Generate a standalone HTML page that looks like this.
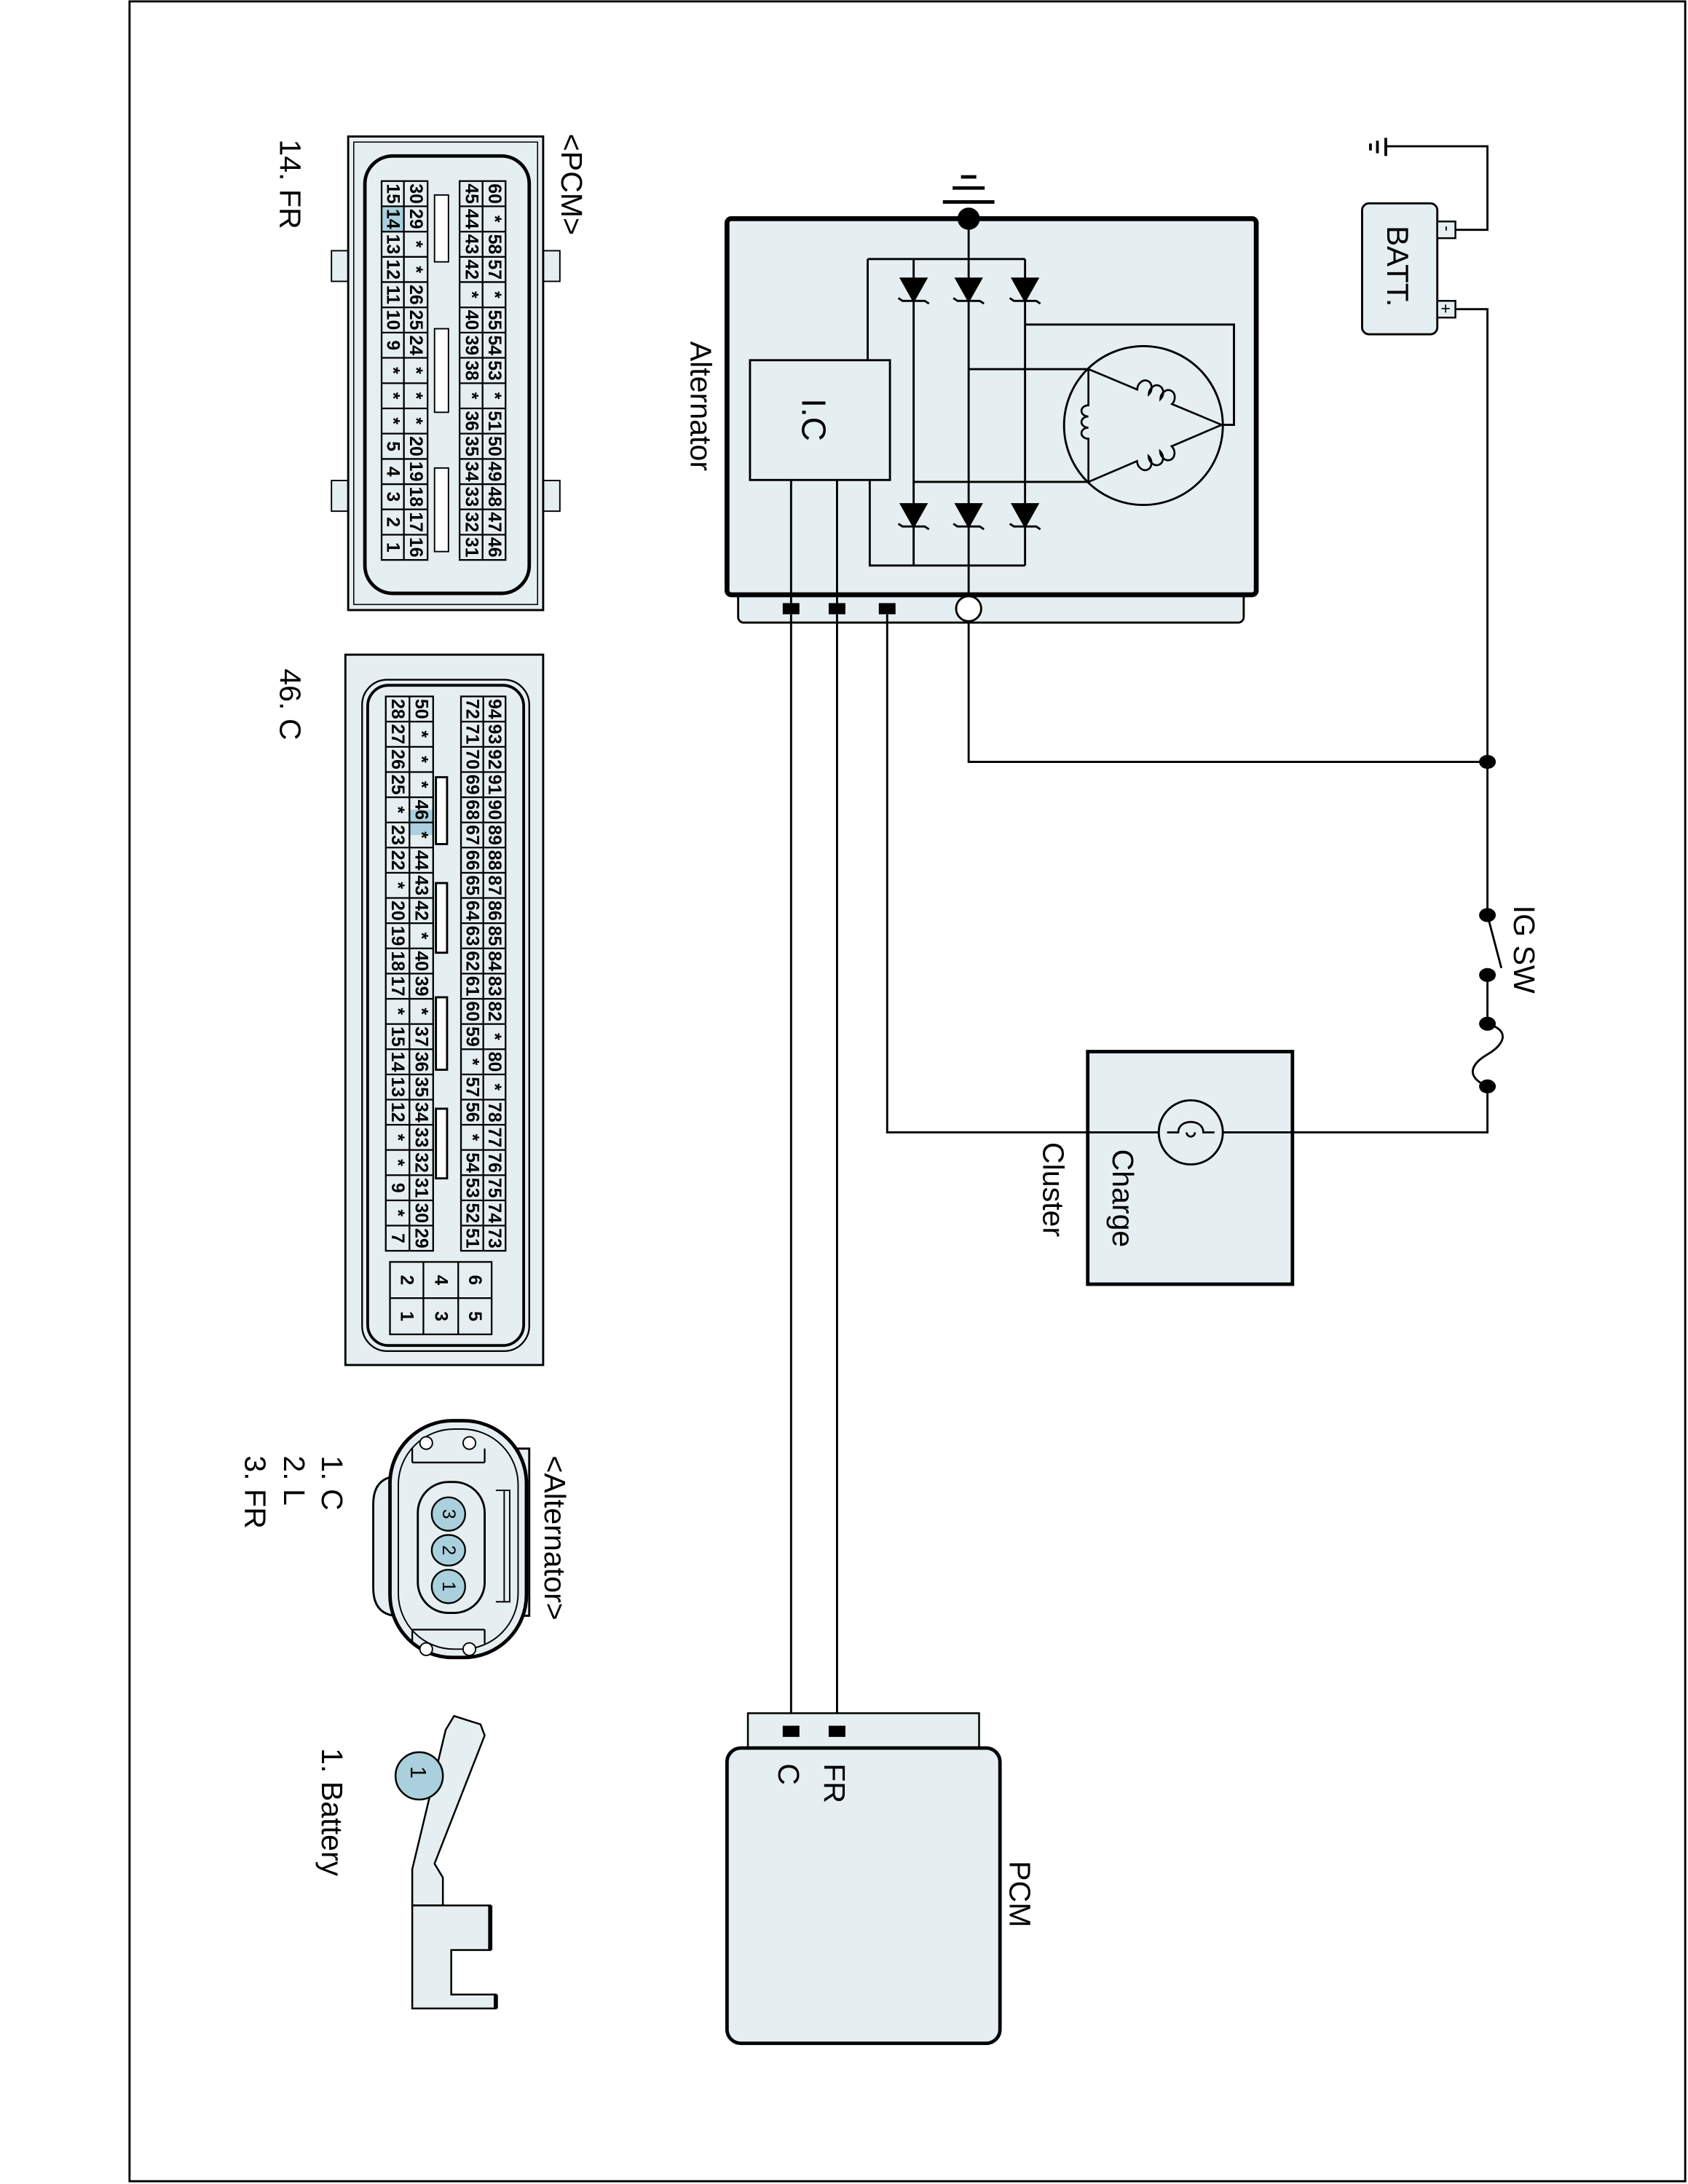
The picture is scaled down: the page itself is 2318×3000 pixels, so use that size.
<!DOCTYPE html>
<html><head><meta charset="utf-8"><style>
html,body{margin:0;padding:0;background:#fff}
svg{display:block}
text{font-family:"Liberation Sans",sans-serif;fill:#000}
.g text{font-size:13px;font-weight:bold;text-anchor:middle;dominant-baseline:central}
.lb{font-size:21.5px}
</style></head><body>
<svg width="2318" height="3000" viewBox="0 0 1212 1568" preserveAspectRatio="none" xmlns="http://www.w3.org/2000/svg">
<rect x="93" y="1" width="1117" height="1565" fill="none" stroke="#000" stroke-width="1.5"/>

<!-- ===== PCM connector 14. FR ===== -->
<text class="lb" transform="translate(201,100) rotate(90)">14. FR</text>
<text class="lb" transform="translate(403,96) rotate(90)">&lt;PCM&gt;</text>
<rect x="238" y="180" width="12" height="22" fill="#e5eef0" stroke="#000"/>
<rect x="238" y="345" width="12" height="22" fill="#e5eef0" stroke="#000"/>
<rect x="390" y="180" width="12" height="22" fill="#e5eef0" stroke="#000"/>
<rect x="390" y="345" width="12" height="22" fill="#e5eef0" stroke="#000"/>
<rect x="250" y="98" width="140" height="340" fill="#e5eef0" stroke="#000" stroke-width="1.5"/>
<rect x="254" y="102" width="132" height="332" fill="none" stroke="#000" stroke-width="0.8"/>
<rect x="262" y="112" width="118" height="314" rx="20" fill="#e5eef0" stroke="#000" stroke-width="2.5"/>
<rect x="312" y="140" width="10" height="48" fill="#fff" stroke="#000"/>
<rect x="312" y="236" width="10" height="60" fill="#fff" stroke="#000"/>
<rect x="312" y="336" width="10" height="60" fill="#fff" stroke="#000"/>
<rect x="274" y="148.2" width="16" height="18.1" fill="#a9d0dc"/>
<g fill="none" stroke="#000" stroke-width="1.2">
<rect x="274" y="130" width="33" height="272"/><rect x="330" y="130" width="33" height="272"/>
<path d="M290 130V402M346.5 130V402M274 148.1H307M274 166.3H307M274 184.4H307M274 202.5H307M274 220.7H307M274 238.8H307M274 256.9H307M274 275.1H307M274 293.2H307M274 311.3H307M274 329.5H307M274 347.6H307M274 365.7H307M274 383.9H307M330 148.1H363M330 166.3H363M330 184.4H363M330 202.5H363M330 220.7H363M330 238.8H363M330 256.9H363M330 275.1H363M330 293.2H363M330 311.3H363M330 329.5H363M330 347.6H363M330 365.7H363M330 383.9H363"/>
</g>
<g class="g">
<text transform="translate(282,139.1) rotate(90)">15</text><text transform="translate(282,157.2) rotate(90)">14</text><text transform="translate(282,175.3) rotate(90)">13</text><text transform="translate(282,193.5) rotate(90)">12</text><text transform="translate(282,211.6) rotate(90)">11</text><text transform="translate(282,229.7) rotate(90)">10</text><text transform="translate(282,247.9) rotate(90)">9</text><text transform="translate(282,266) rotate(90)">*</text><text transform="translate(282,284.1) rotate(90)">*</text><text transform="translate(282,302.2) rotate(90)">*</text><text transform="translate(282,320.4) rotate(90)">5</text><text transform="translate(282,338.5) rotate(90)">4</text><text transform="translate(282,356.6) rotate(90)">3</text><text transform="translate(282,374.8) rotate(90)">2</text><text transform="translate(282,392.9) rotate(90)">1</text>
<text transform="translate(298.5,139.1) rotate(90)">30</text><text transform="translate(298.5,157.2) rotate(90)">29</text><text transform="translate(298.5,175.3) rotate(90)">*</text><text transform="translate(298.5,193.5) rotate(90)">*</text><text transform="translate(298.5,211.6) rotate(90)">26</text><text transform="translate(298.5,229.7) rotate(90)">25</text><text transform="translate(298.5,247.9) rotate(90)">24</text><text transform="translate(298.5,266) rotate(90)">*</text><text transform="translate(298.5,284.1) rotate(90)">*</text><text transform="translate(298.5,302.2) rotate(90)">*</text><text transform="translate(298.5,320.4) rotate(90)">20</text><text transform="translate(298.5,338.5) rotate(90)">19</text><text transform="translate(298.5,356.6) rotate(90)">18</text><text transform="translate(298.5,374.8) rotate(90)">17</text><text transform="translate(298.5,392.9) rotate(90)">16</text>
<text transform="translate(338.5,139.1) rotate(90)">45</text><text transform="translate(338.5,157.2) rotate(90)">44</text><text transform="translate(338.5,175.3) rotate(90)">43</text><text transform="translate(338.5,193.5) rotate(90)">42</text><text transform="translate(338.5,211.6) rotate(90)">*</text><text transform="translate(338.5,229.7) rotate(90)">40</text><text transform="translate(338.5,247.9) rotate(90)">39</text><text transform="translate(338.5,266) rotate(90)">38</text><text transform="translate(338.5,284.1) rotate(90)">*</text><text transform="translate(338.5,302.2) rotate(90)">36</text><text transform="translate(338.5,320.4) rotate(90)">35</text><text transform="translate(338.5,338.5) rotate(90)">34</text><text transform="translate(338.5,356.6) rotate(90)">33</text><text transform="translate(338.5,374.8) rotate(90)">32</text><text transform="translate(338.5,392.9) rotate(90)">31</text>
<text transform="translate(355,139.1) rotate(90)">60</text><text transform="translate(355,157.2) rotate(90)">*</text><text transform="translate(355,175.3) rotate(90)">58</text><text transform="translate(355,193.5) rotate(90)">57</text><text transform="translate(355,211.6) rotate(90)">*</text><text transform="translate(355,229.7) rotate(90)">55</text><text transform="translate(355,247.9) rotate(90)">54</text><text transform="translate(355,266) rotate(90)">53</text><text transform="translate(355,284.1) rotate(90)">*</text><text transform="translate(355,302.2) rotate(90)">51</text><text transform="translate(355,320.4) rotate(90)">50</text><text transform="translate(355,338.5) rotate(90)">49</text><text transform="translate(355,356.6) rotate(90)">48</text><text transform="translate(355,374.8) rotate(90)">47</text><text transform="translate(355,392.9) rotate(90)">46</text>
</g>

<!-- ===== 46. C connector ===== -->
<text class="lb" transform="translate(201,480) rotate(90)">46. C</text>
<rect x="248" y="470" width="142" height="510" fill="#e5eef0" stroke="#000" stroke-width="1.5"/>
<rect x="260" y="488" width="120" height="482" rx="18" fill="none" stroke="#000" stroke-width="1.2"/>
<rect x="264" y="492" width="112" height="474" rx="15" fill="none" stroke="#000" stroke-width="2"/>
<rect x="294" y="581.4" width="17" height="18.1" fill="#a9d0dc"/>
<g fill="#fff" stroke="#000" stroke-width="1.5">
<rect x="313" y="558" width="8" height="48"/><rect x="313" y="634" width="8" height="50"/><rect x="313" y="716" width="8" height="52"/><rect x="313" y="796" width="8" height="50"/>
</g>
<g fill="none" stroke="#000" stroke-width="1.2">
<rect x="277" y="500" width="34" height="398"/><rect x="331" y="500" width="32" height="398"/>
<path d="M294 500V898M347 500V898M277 518.1H311M277 536.2H311M277 554.3H311M277 572.4H311M277 590.5H311M277 608.5H311M277 626.6H311M277 644.7H311M277 662.8H311M277 680.9H311M277 699H311M277 717.1H311M277 735.2H311M277 753.3H311M277 771.4H311M277 789.5H311M277 807.5H311M277 825.6H311M277 843.7H311M277 861.8H311M277 879.9H311M331 518.1H363M331 536.2H363M331 554.3H363M331 572.4H363M331 590.5H363M331 608.5H363M331 626.6H363M331 644.7H363M331 662.8H363M331 680.9H363M331 699H363M331 717.1H363M331 735.2H363M331 753.3H363M331 771.4H363M331 789.5H363M331 807.5H363M331 825.6H363M331 843.7H363M331 861.8H363M331 879.9H363"/>
<rect x="280" y="906" width="73" height="52"/><path d="M280 932H353M304 906V958M329 906V958"/>
</g>
<g class="g">
<text transform="translate(285.5,509) rotate(90)">28</text><text transform="translate(285.5,527.1) rotate(90)">27</text><text transform="translate(285.5,545.2) rotate(90)">26</text><text transform="translate(285.5,563.3) rotate(90)">25</text><text transform="translate(285.5,581.4) rotate(90)">*</text><text transform="translate(285.5,599.5) rotate(90)">23</text><text transform="translate(285.5,617.6) rotate(90)">22</text><text transform="translate(285.5,635.7) rotate(90)">*</text><text transform="translate(285.5,653.8) rotate(90)">20</text><text transform="translate(285.5,671.9) rotate(90)">19</text><text transform="translate(285.5,690) rotate(90)">18</text><text transform="translate(285.5,708) rotate(90)">17</text><text transform="translate(285.5,726.1) rotate(90)">*</text><text transform="translate(285.5,744.2) rotate(90)">15</text><text transform="translate(285.5,762.3) rotate(90)">14</text><text transform="translate(285.5,780.4) rotate(90)">13</text><text transform="translate(285.5,798.5) rotate(90)">12</text><text transform="translate(285.5,816.6) rotate(90)">*</text><text transform="translate(285.5,834.7) rotate(90)">*</text><text transform="translate(285.5,852.8) rotate(90)">9</text><text transform="translate(285.5,870.9) rotate(90)">*</text><text transform="translate(285.5,889) rotate(90)">7</text>
<text transform="translate(302.5,509) rotate(90)">50</text><text transform="translate(302.5,527.1) rotate(90)">*</text><text transform="translate(302.5,545.2) rotate(90)">*</text><text transform="translate(302.5,563.3) rotate(90)">*</text><text transform="translate(302.5,581.4) rotate(90)">46</text><text transform="translate(302.5,599.5) rotate(90)">*</text><text transform="translate(302.5,617.6) rotate(90)">44</text><text transform="translate(302.5,635.7) rotate(90)">43</text><text transform="translate(302.5,653.8) rotate(90)">42</text><text transform="translate(302.5,671.9) rotate(90)">*</text><text transform="translate(302.5,690) rotate(90)">40</text><text transform="translate(302.5,708) rotate(90)">39</text><text transform="translate(302.5,726.1) rotate(90)">*</text><text transform="translate(302.5,744.2) rotate(90)">37</text><text transform="translate(302.5,762.3) rotate(90)">36</text><text transform="translate(302.5,780.4) rotate(90)">35</text><text transform="translate(302.5,798.5) rotate(90)">34</text><text transform="translate(302.5,816.6) rotate(90)">33</text><text transform="translate(302.5,834.7) rotate(90)">32</text><text transform="translate(302.5,852.8) rotate(90)">31</text><text transform="translate(302.5,870.9) rotate(90)">30</text><text transform="translate(302.5,889) rotate(90)">29</text>
<text transform="translate(339,509) rotate(90)">72</text><text transform="translate(339,527.1) rotate(90)">71</text><text transform="translate(339,545.2) rotate(90)">70</text><text transform="translate(339,563.3) rotate(90)">69</text><text transform="translate(339,581.4) rotate(90)">68</text><text transform="translate(339,599.5) rotate(90)">67</text><text transform="translate(339,617.6) rotate(90)">66</text><text transform="translate(339,635.7) rotate(90)">65</text><text transform="translate(339,653.8) rotate(90)">64</text><text transform="translate(339,671.9) rotate(90)">63</text><text transform="translate(339,690) rotate(90)">62</text><text transform="translate(339,708) rotate(90)">61</text><text transform="translate(339,726.1) rotate(90)">60</text><text transform="translate(339,744.2) rotate(90)">59</text><text transform="translate(339,762.3) rotate(90)">*</text><text transform="translate(339,780.4) rotate(90)">57</text><text transform="translate(339,798.5) rotate(90)">56</text><text transform="translate(339,816.6) rotate(90)">*</text><text transform="translate(339,834.7) rotate(90)">54</text><text transform="translate(339,852.8) rotate(90)">53</text><text transform="translate(339,870.9) rotate(90)">52</text><text transform="translate(339,889) rotate(90)">51</text>
<text transform="translate(355,509) rotate(90)">94</text><text transform="translate(355,527.1) rotate(90)">93</text><text transform="translate(355,545.2) rotate(90)">92</text><text transform="translate(355,563.3) rotate(90)">91</text><text transform="translate(355,581.4) rotate(90)">90</text><text transform="translate(355,599.5) rotate(90)">89</text><text transform="translate(355,617.6) rotate(90)">88</text><text transform="translate(355,635.7) rotate(90)">87</text><text transform="translate(355,653.8) rotate(90)">86</text><text transform="translate(355,671.9) rotate(90)">85</text><text transform="translate(355,690) rotate(90)">84</text><text transform="translate(355,708) rotate(90)">83</text><text transform="translate(355,726.1) rotate(90)">82</text><text transform="translate(355,744.2) rotate(90)">*</text><text transform="translate(355,762.3) rotate(90)">80</text><text transform="translate(355,780.4) rotate(90)">*</text><text transform="translate(355,798.5) rotate(90)">78</text><text transform="translate(355,816.6) rotate(90)">77</text><text transform="translate(355,834.7) rotate(90)">76</text><text transform="translate(355,852.8) rotate(90)">75</text><text transform="translate(355,870.9) rotate(90)">74</text><text transform="translate(355,889) rotate(90)">73</text>
<text transform="translate(292,919) rotate(90)">2</text><text transform="translate(292,945) rotate(90)">1</text><text transform="translate(316.5,919) rotate(90)">4</text><text transform="translate(316.5,945) rotate(90)">3</text><text transform="translate(341,919) rotate(90)">6</text><text transform="translate(341,945) rotate(90)">5</text>
</g>

<!-- ===== Alternator connector ===== -->
<text class="lb" transform="translate(391,1045) rotate(90)">&lt;Alternator&gt;</text>
<text class="lb" transform="translate(231,1045) rotate(90)">1. C</text>
<text class="lb" transform="translate(204,1045) rotate(90)">2. L</text>
<text class="lb" transform="translate(176,1045) rotate(90)">3. FR</text>
<path d="M283 1060 Q268 1062 268 1080 V1140 Q268 1158 283 1160 Z" fill="#e5eef0" stroke="#000" stroke-width="1.5"/>
<path d="M372 1040 h8 v120 h-8 Z" fill="#e5eef0" stroke="#000" stroke-width="1.5"/>
<rect x="280" y="1020" width="98" height="170" rx="45" fill="#e5eef0" stroke="#000" stroke-width="2.5"/>
<rect x="286" y="1026" width="86" height="158" rx="40" fill="none" stroke="#000" stroke-width="1"/>
<rect x="300" y="1064" width="48" height="94" rx="22" fill="#e5eef0" stroke="#000" stroke-width="1.5"/>
<path d="M296 1050 H348 M296 1040 V1050 M348 1040 V1050 M296 1170 H348 M296 1170 V1180 M348 1170 V1180" stroke="#000" fill="none" stroke-width="1.2"/>
<circle cx="306" cy="1036" r="4.5" fill="#fff" stroke="#000"/><circle cx="337" cy="1036" r="4.5" fill="#fff" stroke="#000"/>
<circle cx="306" cy="1184" r="4.5" fill="#fff" stroke="#000"/><circle cx="337" cy="1184" r="4.5" fill="#fff" stroke="#000"/>
<path d="M356 1070 h10 v80 h-10 M362 1070 v80" fill="none" stroke="#000"/>
<g fill="#a9d0dc" stroke="#000" stroke-width="1.2">
<ellipse cx="322" cy="1087" rx="12" ry="12"/><ellipse cx="322" cy="1113" rx="12" ry="11"/><ellipse cx="322" cy="1139" rx="12" ry="12"/>
</g>
<g class="g"><text transform="translate(322,1087) rotate(90)" style="font-weight:normal">3</text><text transform="translate(322,1113) rotate(90)" style="font-weight:normal">2</text><text transform="translate(322,1139) rotate(90)" style="font-weight:normal">1</text></g>

<!-- ===== Battery terminal ===== -->
<text class="lb" transform="translate(231,1255) rotate(90)">1. Battery</text>
<path d="M320 1242 L326 1232 L345 1238 L348 1246 L312 1338 L318 1348 L318 1368 L296 1368 L296 1342 Z" fill="#e5eef0" stroke="#000" stroke-width="1.3"/>
<path d="M296 1368 H352 V1400 H324 V1432 H356 V1442 H296 Z" fill="#e5eef0" stroke="#000" stroke-width="1.3"/>
<path d="M352 1368 v32 M356 1432 v10" stroke="#000" stroke-width="3"/>
<ellipse cx="301" cy="1275" rx="17" ry="17" fill="#a9d0dc" stroke="#000" stroke-width="1.3"/>
<text class="lb" transform="translate(295,1268) rotate(90)" style="font-size:16px">1</text>

<!-- ===== Alternator ===== -->
<text class="lb" transform="translate(496,245) rotate(90)">Alternator</text>
<rect x="530" y="420" width="363" height="27" rx="4" fill="#e5eef0" stroke="#000" stroke-width="1.5"/>
<rect x="522" y="157" width="380" height="270" rx="3" fill="#e5eef0" stroke="#000" stroke-width="3.5"/>
<g stroke="#000" stroke-width="2.5"><path d="M677 145H714M684 135H707M690 127H701"/></g>
<circle cx="695.5" cy="157" r="8" fill="#000"/>
<g fill="none" stroke="#000" stroke-width="1.5">
<path d="M695.5 157V428M623 186H736M623 186V258.6M656 186V406M736 186V406M624.5 344.5V406H736"/>
<path d="M736 233H886V305H877M695.5 265H781.5M656 346H781.5"/>
<circle cx="821" cy="305.5" r="57"/>
<rect x="538.5" y="258.6" width="100.5" height="86"/>
<path d="M568 344.5V437M601 344.5V437"/>
</g>
<g fill="#000" stroke="#000" stroke-width="1.5">
<path d="M647 200H665L656 216Z"/><path d="M686.5 200H704.5L695.5 216Z"/><path d="M727 200H745L736 216Z"/>
<path d="M647 362H665L656 378Z"/><path d="M686.5 362H704.5L695.5 378Z"/><path d="M727 362H745L736 378Z"/>
<path fill="none" d="M645 214L648 216H664L667 218M684.5 214L687.5 216H703.5L706.5 218M725 214L728 216H744L747 218M645 376L648 378H664L667 380M684.5 376L687.5 378H703.5L706.5 380M725 376L728 378H744L747 380"/>
</g>
<g fill="none" stroke="#000" stroke-width="1.4">
<g transform="translate(781.5,265) rotate(22.7)"><path d="M0 0H38a5 6 0 1 1 9 0a5 6 0 1 1 9 0a5 6 0 1 1 9 0H103.5"/></g>
<g transform="translate(781.5,346) rotate(-23.2)"><path d="M0 0H38a5 6 0 1 0 9 0a5 6 0 1 0 9 0a5 6 0 1 0 9 0H104"/></g>
<g transform="translate(781.5,265) rotate(90)"><path d="M0 0H26a4 5 0 1 0 8 0a4 5 0 1 0 8 0a4 5 0 1 0 8 0H81"/></g>
</g>
<text transform="translate(576,286) rotate(90)" style="font-size:24px">I.C</text>
<g fill="#000"><rect x="562" y="433" width="12" height="8"/><rect x="595" y="433" width="12" height="8"/><rect x="631" y="433" width="12" height="8"/></g>
<circle cx="695.5" cy="437" r="9" fill="#fff" stroke="#000" stroke-width="1.5"/>

<g fill="none" stroke="#000" stroke-width="1.5">
<path d="M695.5 446V547H1068"/>
<path d="M637 441V813H1068V780"/>
<path d="M568 441V1243M601 441V1243"/>
<path d="M1045 222H1068V657M1068 700V735"/>
<path d="M1045 165H1068V105H995"/>
<path d="M1068 657L1078 695"/>
<path d="M1068 735C1085 740 1080 750 1068 757C1056 764 1052 773 1068 780"/>
</g>
<g stroke="#000" stroke-width="2"><path d="M995 99V112M989 101V110M984 103V108"/></g>
<g fill="#000"><ellipse cx="1068" cy="547" rx="6" ry="5"/><ellipse cx="1068" cy="657" rx="6" ry="5"/><ellipse cx="1068" cy="700" rx="6" ry="5"/><ellipse cx="1068" cy="735" rx="6" ry="5"/><ellipse cx="1068" cy="780" rx="6" ry="5"/></g>
<text class="lb" transform="translate(1087,650) rotate(90)">IG SW</text>

<rect x="978" y="146" width="54" height="94" rx="5" fill="#e5eef0" stroke="#000" stroke-width="1.5"/>
<rect x="1032" y="159" width="13" height="12" fill="#e5eef0" stroke="#000" stroke-width="1.3"/>
<rect x="1032" y="216" width="13" height="12" fill="#e5eef0" stroke="#000" stroke-width="1.3"/>
<text transform="translate(1035,162) rotate(90)" style="font-size:12px">-</text>
<text transform="translate(1034,218) rotate(90)" style="font-size:12px">+</text>
<text class="lb" transform="translate(996,162) rotate(90)" style="font-size:22px">BATT.</text>

<rect x="781" y="755" width="147" height="167" fill="#e5eef0" stroke="#000" stroke-width="2.5"/>
<path d="M781 813H928" stroke="#000" stroke-width="1.5"/>
<circle cx="855" cy="813" r="23" fill="#e5eef0" stroke="#000" stroke-width="1.5"/>
<path d="M838 813H846C846 803 864 803 864 813H872M852 813a3 3 0 1 0 6 0" fill="none" stroke="#000" stroke-width="1.4"/>
<text class="lb" transform="translate(799,825) rotate(90)">Charge</text>
<text class="lb" transform="translate(749,820) rotate(90)">Cluster</text>

<rect x="537" y="1230" width="166" height="30" fill="#e5eef0" stroke="#000" stroke-width="1.3"/>
<rect x="522" y="1255" width="196" height="212" rx="10" fill="#e5eef0" stroke="#000" stroke-width="2.5"/>
<g fill="#000"><rect x="562" y="1239" width="12" height="8"/><rect x="595" y="1239" width="12" height="8"/></g>
<text class="lb" transform="translate(592,1266) rotate(90)">FR</text>
<text class="lb" transform="translate(559,1266) rotate(90)">C</text>
<text class="lb" transform="translate(725,1336) rotate(90)">PCM</text>
</svg>
</body></html>
